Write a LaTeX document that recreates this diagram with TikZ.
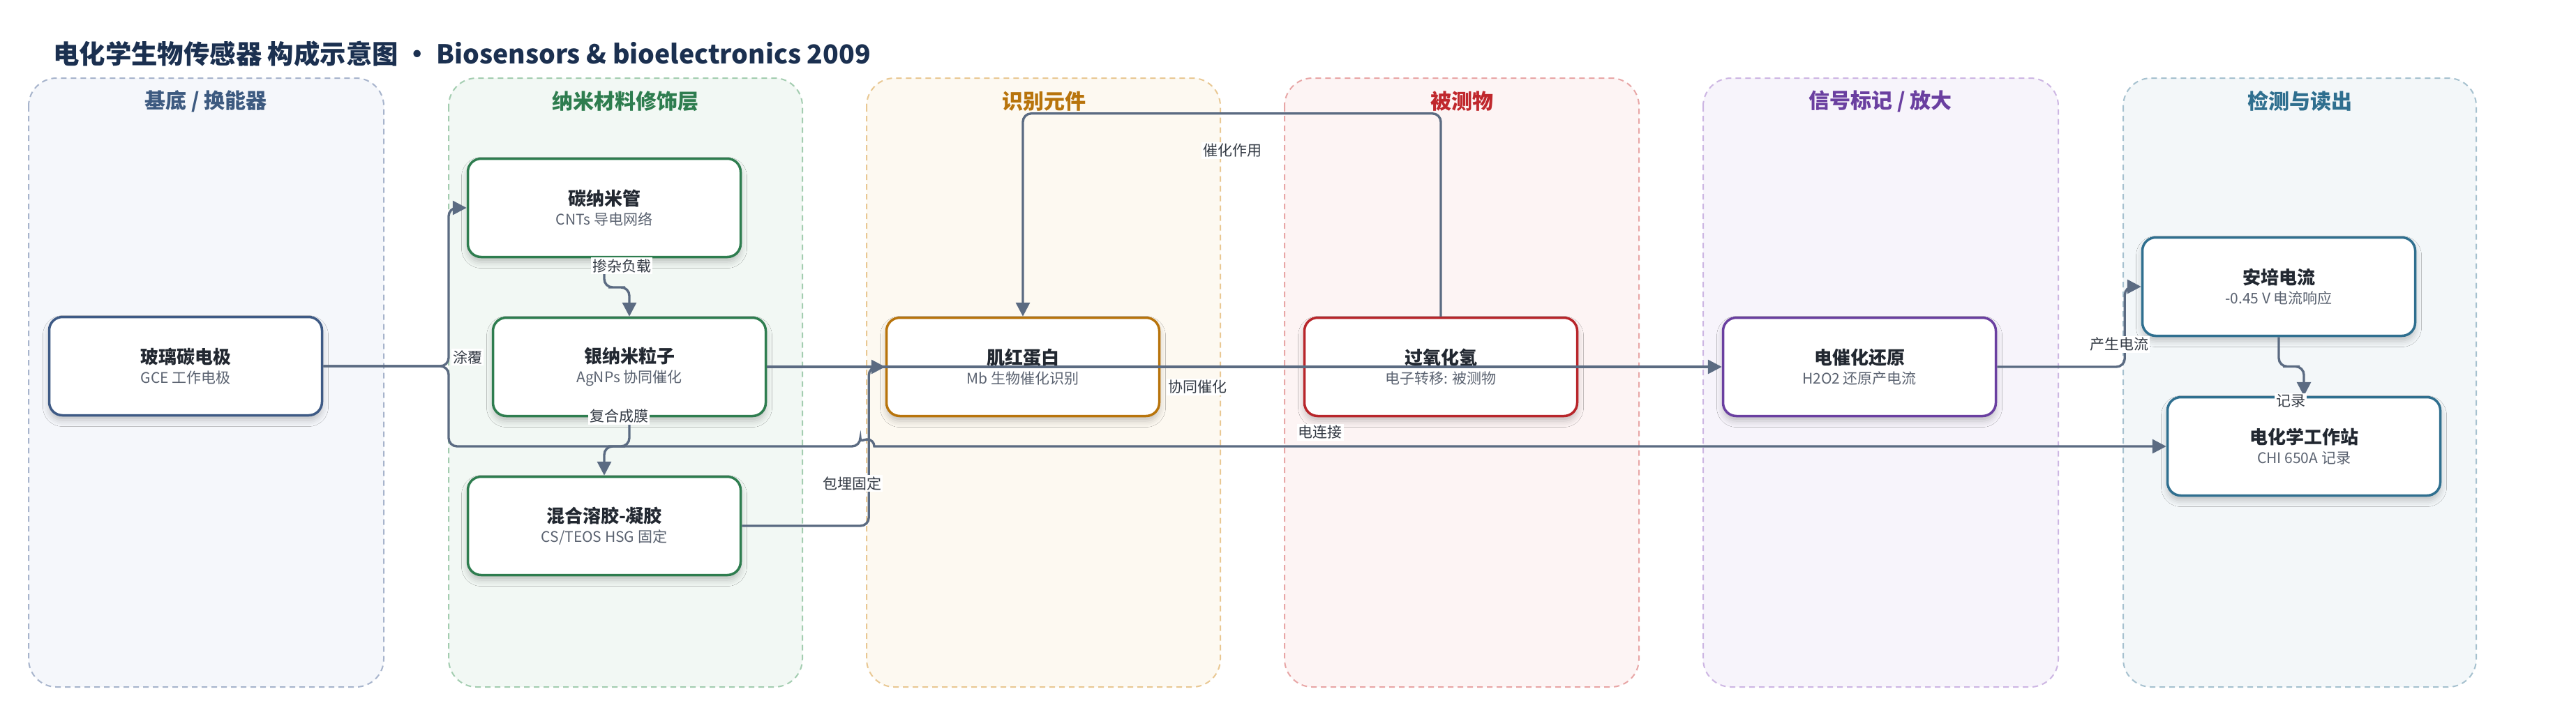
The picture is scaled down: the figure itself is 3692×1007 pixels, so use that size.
\documentclass[tikz,border=0pt]{standalone}
\usepackage{fontspec}
\setmainfont{Noto Sans CJK SC}
\usetikzlibrary{arrows.meta,calc,shadows.blur}

\definecolor{edgec}{HTML}{5B6B82}
\definecolor{titlec}{HTML}{1B3050}
\definecolor{nodetc}{HTML}{222831}
\definecolor{subc}{HTML}{5A6270}
\definecolor{labc}{HTML}{333A44}
% lanes
\definecolor{laneAd}{HTML}{A7B4CC}\definecolor{laneAf}{HTML}{F5F7FB}\definecolor{laneAt}{HTML}{3D5A80}
\definecolor{laneBd}{HTML}{A3CDB0}\definecolor{laneBf}{HTML}{F2F8F4}\definecolor{laneBt}{HTML}{2E7D4F}
\definecolor{laneCd}{HTML}{E9C893}\definecolor{laneCf}{HTML}{FDF9F1}\definecolor{laneCt}{HTML}{B8740C}
\definecolor{laneDd}{HTML}{E8A6A6}\definecolor{laneDf}{HTML}{FDF4F4}\definecolor{laneDt}{HTML}{C0282D}
\definecolor{laneEd}{HTML}{CDB6E3}\definecolor{laneEf}{HTML}{F7F4FB}\definecolor{laneEt}{HTML}{6A3FA0}
\definecolor{laneFd}{HTML}{A6C1CF}\definecolor{laneFf}{HTML}{F3F7F9}\definecolor{laneFt}{HTML}{2F6F8F}
% node borders
\definecolor{bA}{HTML}{3E5A85}
\definecolor{bB}{HTML}{2E7D4F}
\definecolor{bC}{HTML}{B8740C}
\definecolor{bD}{HTML}{B8262B}
\definecolor{bE}{HTML}{6A3FA0}
\definecolor{bF}{HTML}{2F6F8F}

\newcommand\boxtext[2]{{\fontsize{26}{30}\selectfont\bfseries\color{nodetc}#1}\\[7pt]{\fontsize{21}{25}\selectfont\color{subc}#2}}

\tikzset{
  lane/.style n args={2}{draw=#1, fill=#2, line width=2pt, dash pattern=on 8pt off 6pt, rounded corners=40pt},
  lanetitle/.style={font=\fontsize{30}{36}\selectfont\bfseries, text=#1},
  box/.style={draw=#1, fill=white, line width=3.5pt, rounded corners=19pt,
    minimum width=391pt, minimum height=141pt, align=center, inner sep=0pt,
    blur shadow={shadow xshift=0pt, shadow yshift=-7pt, shadow blur radius=9pt, shadow opacity=22}},
  edge/.style={draw=edgec, line width=3.4pt, rounded corners=12pt, -{Triangle[length=20pt,width=20pt]}},
  elabel/.style={fill=white, inner sep=2pt, text=labc, font=\fontsize{21}{24}\selectfont},
}

\begin{document}
\begin{tikzpicture}[x=1pt,y=-1pt]
\useasboundingbox (0,0) rectangle (3692,1007);
\fill[white] (0,0) rectangle (3692,1007);

% title
\node[anchor=west, font=\fontsize{37.4}{44}\selectfont\bfseries, text=titlec, inner sep=0pt] (title) at (76,77)
  {电化学生物传感器 构成示意图 • Biosensors \& bioelectronics 2009};

% lanes
\path[lane={laneAd}{laneAf}] (41,112) rectangle (550,985);
\path[lane={laneBd}{laneBf}] (643,112) rectangle (1150,985);
\path[lane={laneCd}{laneCf}] (1242,112) rectangle (1749,985);
\path[lane={laneDd}{laneDf}] (1841,112) rectangle (2349,985);
\path[lane={laneEd}{laneEf}] (2441,112) rectangle (2950,985);
\path[lane={laneFd}{laneFf}] (3043,112) rectangle (3549,985);

\node[lanetitle=laneAt] (tA) at (295,145) {基底 / 换能器};
\node[lanetitle=laneBt] (tB) at (896,145) {纳米材料修饰层};
\node[lanetitle=laneCt] (tC) at (1496,145) {识别元件};
\node[lanetitle=laneDt] (tD) at (2095,145) {被测物};
\node[lanetitle=laneEt] (tE) at (2695,145) {信号标记 / 放大};
\node[lanetitle=laneFt] (tF) at (3296,145) {检测与读出};

% nodes
\node[box=bA] (gce)  at (266,525)  {\boxtext{玻璃碳电极}{GCE 工作电极}};
\node[box=bB] (cnt)  at (866,298)  {\boxtext{碳纳米管}{CNTs 导电网络}};
\node[box=bB] (agnp) at (902,526)  {\boxtext{银纳米粒子}{AgNPs 协同催化}};
\node[box=bB] (hsg)  at (866,754)  {\boxtext{混合溶胶-凝胶}{CS/TEOS HSG 固定}};
\node[box=bC] (mb)   at (1466,526) {\boxtext{肌红蛋白}{Mb 生物催化识别}};
\node[box=bD] (h2o2) at (2065,526) {\boxtext{过氧化氢}{电子转移: 被测物}};
\node[box=bE] (ecr)  at (2665,526) {\boxtext{电催化还原}{H2O2 还原产电流}};
\node[box=bF] (amp)  at (3266,411) {\boxtext{安培电流}{-0.45 V 电流响应}};
\node[box=bF] (ws)   at (3302,640) {\boxtext{电化学工作站}{CHI 650A 记录}};

% helper coordinates
\coordinate (split) at (643,525);
\coordinate (hopL) at (1233,640);

% edges
\draw[edge] (gce.east) -- (split) |- (cnt.west);
\draw[edge] (gce.east) -- (split) |- (hopL) [sharp corners] arc[start angle=180, end angle=0, radius=10pt] -- (ws.west);
\draw[edge] (cnt.south) |- ($(cnt.south)!.5!(agnp.north)$) -| (agnp.north);
\draw[edge] (agnp.south) |- ($(agnp.south)!.5!(hsg.north)$) -| (hsg.north);
\draw[edge] (hsg.east) -- ++(182,0) |- (mb.west);
\draw[edge] (agnp.east) -- (ecr.west);
\draw[edge] (h2o2.north) -- ++(0,-291) -| (mb.north);
\draw[edge] (ecr.east) -- ++(183,0) |- (amp.west);
\draw[edge] (amp.south) |- ($(amp.south)!.5!(ws.north)$) -| (ws.north);

% edge labels
\node[elabel] (l1) at (670,512)  {涂覆};
\node[elabel] (l2) at (1892,620) {电连接};
\node[elabel] (l3) at (891,381)  {掺杂负载};
\node[elabel] (l4) at (887,597)  {复合成膜};
\node[elabel] (l5) at (1221,693) {包埋固定};
\node[elabel] (l6) at (1716,555) {协同催化};
\node[elabel] (l7) at (1766,216) {催化作用};
\node[elabel] (l8) at (3037,494) {产生电流};
\node[elabel] (l9) at (3283,575) {记录};
\end{tikzpicture}
\end{document}
